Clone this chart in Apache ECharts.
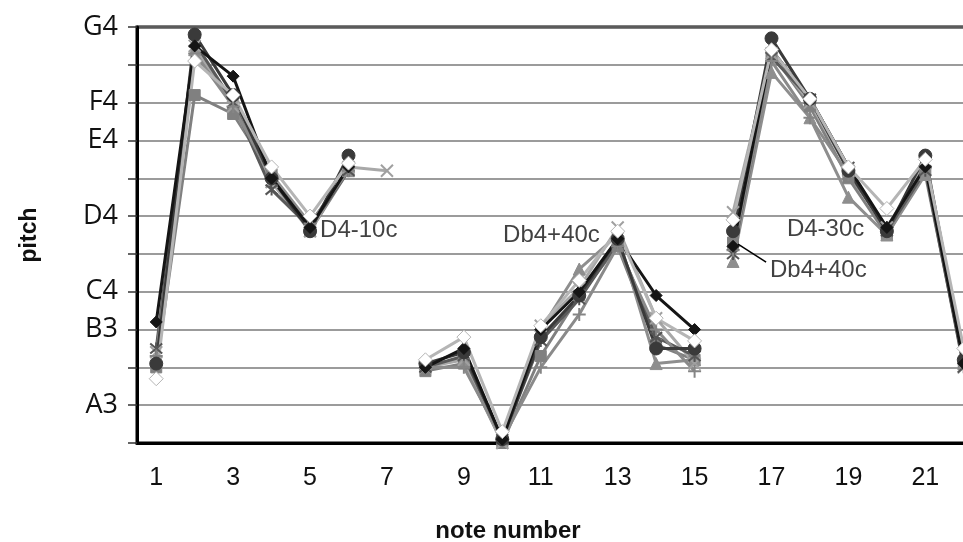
<!DOCTYPE html>
<html>
<head>
<meta charset="utf-8">
<script src="https://cdn.jsdelivr.net/npm/echarts@6/dist/echarts.min.js"></script>
<style>
  html, body { margin: 0; padding: 0; background: #fff; }
  #chart { width: 963px; height: 542px; }
</style>
</head>
<body>
<div id="chart"></div>
<script>
// pitch in semitones (MIDI numbers): 57 = A3, 60 = C4, 67 = G4
const notes = [1, 2, 3, 4, 5, 6, 7, 8, 9, 10, 11, 12, 13, 14, 15, 16, 17, 18, 19, 20, 21, 22]
const phrases = [[1, 7], [8, 15], [16, 22]]
const pitchNames = { 57: 'A3', 59: 'B3', 60: 'C4', 62: 'D4', 64: 'E4', 65: 'F4', 67: 'G4' }
const xLabels = [1, 3, 5, 7, 9, 11, 13, 15, 17, 19, 21]

const blackDiamond = [59.2, 66.5, 65.7, 63.0, 61.7, 63.3, null, 58.0, 58.5, 56.1, 59.0, 60.0, 61.4, 59.9, 59.0, 61.2, 66.4, 65.1, 63.3, 61.7, 63.3, 58.1]
const circle = [58.1, 66.8, 65.2, 63.0, 61.6, 63.6, null, 58.1, 58.4, 56.1, 58.8, 59.9, 61.4, 58.5, 58.5, 61.6, 66.7, 65.1, 63.2, 61.6, 63.6, 58.2]
const square = [58.0, 65.2, 64.7, 63.1, 61.6, 63.2, null, 57.9, 58.1, 56.0, 58.3, 59.9, 61.2, 58.6, 58.2, 61.3, 66.3, 64.9, 63.0, 61.5, 63.2, 58.1]
const triangle = [58.2, 66.4, 65.0, 63.1, 61.8, 63.2, null, 58.1, 58.2, 56.1, 59.0, 60.6, 61.5, 58.1, 58.2, 60.8, 65.8, 64.6, 62.5, 61.5, 63.1, 58.1]
const cross = [58.4, 66.5, 64.9, 62.9, 61.6, 63.3, 63.2, 58.0, 58.2, 56.0, 59.1, 60.1, 61.7, 59.3, 58.1, 62.1, 66.3, 65.0, 63.2, 61.7, 63.4, 58.0]
const asterisk = [58.5, 66.6, 65.0, 62.7, 61.7, 63.2, null, 58.0, 58.3, 56.1, 58.7, 59.8, 61.3, 58.8, 58.3, 61.0, 66.2, 65.1, 63.3, 61.6, 63.2, 58.0]
const plus = [58.3, 66.3, 64.9, 63.0, 61.8, 63.2, null, 58.0, 58.0, 56.1, 58.0, 59.4, 61.2, 59.0, 57.9, 61.1, 66.1, 64.6, 63.1, 61.7, 63.3, 58.1]
const whiteDiamond = [57.7, 66.1, 65.2, 63.3, 62.0, 63.4, null, 58.2, 58.8, 56.3, 59.1, 60.3, 61.6, 59.3, 58.7, 61.9, 66.4, 65.1, 63.3, 62.2, 63.5, 58.5]

// annotations: [x, pitch, text]
const notesText = [[5.26, 61.63, 'D4-10c'], [10.02, 61.5, 'Db4+40c'], [17.4, 61.66, 'D4-30c'], [16.96, 60.57, 'Db4+40c']]
const leader = [[16.13, 61.26], [16.86, 60.78]]

const xPath = 'path://M0,0L10,10M10,0L0,10'
const starPath = 'path://M0,0L10,10M10,0L0,10M5,-1L5,11'
const plusPath = 'path://M5,0L5,10M0,5L10,5'

const performers = [
  { name: 'p3', data: square, line: '#808080', symbol: 'rect', size: 11, fill: '#808080', border: '#808080' },
  { name: 'p4', data: triangle, line: '#8e8e8e', symbol: 'triangle', size: 12, fill: '#8e8e8e', border: '#8e8e8e' },
  { name: 'p5', data: cross, line: '#a8a8a8', symbol: xPath, size: 12, fill: 'none', border: '#a0a0a0' },
  { name: 'p6', data: asterisk, line: '#5a5a5a', symbol: starPath, size: 12, fill: 'none', border: '#555' },
  { name: 'p7', data: plus, line: '#8a8a8a', symbol: plusPath, size: 13, fill: 'none', border: '#858585' },
  { name: 'p2', data: circle, line: '#3a3a3a', symbol: 'circle', size: 13, fill: '#3a3a3a', border: '#3a3a3a' },
  { name: 'p1', data: blackDiamond, line: '#151515', symbol: 'diamond', size: 12, fill: '#151515', border: '#151515' },
  { name: 'p8', data: whiteDiamond, line: '#b5b5b5', symbol: 'diamond', size: 14, fill: '#ffffff', border: '#b5b5b5' }
]

const series = []
performers.forEach(p => {
  phrases.forEach(ph => {
    const pts = []
    notes.forEach((n, i) => {
      if (n >= ph[0] && n <= ph[1] && p.data[i] != null) pts.push([n, p.data[i]])
    })
    series.push({
      type: 'line',
      name: p.name,
      data: pts,
      symbol: p.symbol,
      symbolSize: p.size,
      showAllSymbol: true,
      lineStyle: { color: p.line, width: 3 },
      itemStyle: { color: p.fill, borderColor: p.border, borderWidth: p.fill === 'none' ? 2 : 1 },
      animation: false,
      z: 3
    })
  })
})

series.push({
  type: 'line',
  data: leader,
  symbol: 'none',
  lineStyle: { color: '#000', width: 1.5 },
  animation: false,
  z: 4
})
series.push({
  type: 'scatter',
  data: notesText.map(t => ({ value: [t[0], t[1]], label: { formatter: t[2] } })),
  symbolSize: 0,
  label: {
    show: true,
    position: 'right',
    distance: 0,
    fontFamily: 'Liberation Sans',
    fontSize: 24,
    color: '#111'
  },
  animation: false,
  z: 5
})

const chart = echarts.init(document.getElementById('chart'))
chart.setOption({
  backgroundColor: '#fff',
  animation: false,
  grid: {
    left: 137,
    right: -20,
    top: 27,
    bottom: 99,
    outerBoundsMode: 'none',
    containLabel: false,
    show: true,
    borderColor: '#000',
    borderWidth: 3
  },
  xAxis: {
    type: 'value',
    min: 0.5,
    max: 22.5,
    name: 'note number',
    nameLocation: 'middle',
    nameGap: 76,
    nameTextStyle: { fontFamily: 'Liberation Sans', fontWeight: 'bold', fontSize: 24, color: '#111', padding: [0, 104, 0, 0] },
    axisLine: { show: true, lineStyle: { color: '#000', width: 3 } },
    axisTick: { show: false },
    splitLine: { show: false },
    axisLabel: {
      customValues: xLabels,
      margin: 23,
      fontFamily: 'Liberation Sans Narrow, Liberation Sans',
      fontSize: 25,
      color: '#111'
    }
  },
  yAxis: {
    type: 'value',
    min: 56,
    max: 67,
    interval: 1,
    name: 'pitch',
    nameLocation: 'middle',
    nameGap: 96,
    nameTextStyle: { fontFamily: 'Liberation Sans', fontWeight: 'bold', fontSize: 23, color: '#111' },
    axisLine: { show: true, lineStyle: { color: '#000', width: 3 } },
    axisTick: { show: true, length: 9, lineStyle: { color: '#333', width: 1.5 } },
    splitLine: { show: true, lineStyle: { color: '#7a7a7a', width: 1.5 } },
    axisLabel: {
      margin: 19,
      fontFamily: 'Open Sans',
      fontSize: 27,
      color: '#111',
      formatter: v => pitchNames[v] || ''
    }
  },
  series: series
})
</script>
</body>
</html>
